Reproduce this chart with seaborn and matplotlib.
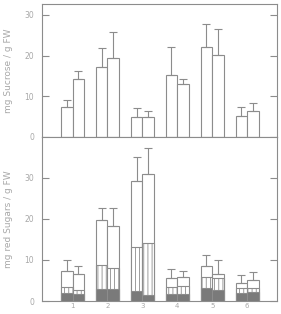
import matplotlib
matplotlib.use('Agg')
import matplotlib.pyplot as plt
import seaborn as sns
import pandas as pd
import numpy as np

groups = ['1', '2', '3', '4', '5', '6']
series = ['a', 'b']

# sucrose (top panel), mean and upper error bar end
sucrose_a = [7.3, 17.3, 5.0, 15.2, 22.2, 5.1]
sucrose_b = [14.3, 19.3, 5.0, 13.0, 20.1, 6.5]
sucrose_err_a = [9.1, 21.9, 7.2, 22.1, 27.7, 7.3]
sucrose_err_b = [16.3, 25.8, 6.5, 14.2, 26.5, 8.4]

# reducing sugars (bottom panel): total, hatched part top, dark part top
total_a = [7.3, 19.8, 29.3, 5.6, 8.5, 4.4]
total_b = [6.7, 18.4, 31.0, 5.8, 6.7, 5.2]
total_err_a = [10.1, 22.6, 35.1, 7.7, 11.3, 6.4]
total_err_b = [8.5, 22.6, 37.3, 7.3, 10.0, 7.1]
hatched_a = [3.3, 8.9, 13.1, 3.5, 5.9, 3.1]
hatched_b = [2.7, 8.1, 14.1, 3.6, 5.7, 3.2]
dark_a = [1.9, 3.0, 2.4, 1.8, 3.2, 2.0]
dark_b = [1.6, 3.0, 1.5, 1.8, 2.6, 2.2]

line_col = '#8c8c8c'
text_col = '#a8a8a8'
dark_col = '#7a7a7a'

plt.rcParams['hatch.color'] = '#9a9a9a'
plt.rcParams['hatch.linewidth'] = 0.6


def make_df(a, b):
    return pd.DataFrame({'group': groups * 2,
                         'series': ['a'] * 6 + ['b'] * 6,
                         'value': list(a) + list(b)})


def bars(ax, a, b, color, hatch=None):
    n0 = len(ax.patches)
    sns.barplot(data=make_df(a, b), x='group', y='value', hue='series',
                hue_order=series, order=groups, palette=[color, color],
                width=0.67, dodge=True, errorbar=None, legend=False,
                edgecolor=line_col, linewidth=0.8, saturation=1, ax=ax)
    for p in ax.patches[n0:]:
        if hatch:
            p.set_hatch(hatch)


def errs(ax, a_top, a_err, b_top, b_err):
    x = np.arange(len(groups))
    off = 0.67 / 4
    for xs, top, err in [(x - off, a_top, a_err), (x + off, b_top, b_err)]:
        top = np.array(top)
        err = np.array(err)
        ax.errorbar(xs, top, yerr=[np.zeros_like(top), err - top], fmt='none',
                    ecolor=line_col, elinewidth=0.8, capsize=3, capthick=0.8)


def style(ax, ylim, label):
    ax.set_xlim(-0.865, 5.85)
    ax.set_ylim(*ylim)
    ax.set_yticks([0, 10, 20, 30])
    for s in ax.spines.values():
        s.set_color(line_col)
        s.set_linewidth(0.8)
    ax.tick_params(axis='y', direction='in', length=5, width=0.8, color=line_col,
                   labelcolor=text_col, labelsize=5.5, pad=6, right=True)
    ax.set_ylabel(label, color=text_col, fontsize=6.5)
    ax.yaxis.set_label_coords(-0.125, 0.5)
    ax.set_xlabel('')


fig = plt.figure(figsize=(2.81, 3.14), dpi=100)
ax1 = fig.add_axes([0.1505, 0.5637, 0.835, 0.4236])
ax2 = fig.add_axes([0.1505, 0.0414, 0.835, 0.5223])

bars(ax1, sucrose_a, sucrose_b, 'white')
errs(ax1, sucrose_a, sucrose_err_a, sucrose_b, sucrose_err_b)
style(ax1, (0, 32.7), 'mg Sucrose / g FW')
ax1.set_xticks([])

bars(ax2, total_a, total_b, 'white')
bars(ax2, hatched_a, hatched_b, 'white', hatch='||||')
bars(ax2, dark_a, dark_b, dark_col)
errs(ax2, total_a, total_err_a, total_b, total_err_b)
style(ax2, (0, 40), 'mg red Sugars / g FW')
ax2.tick_params(axis='x', length=0, labelcolor=text_col, labelsize=5, pad=1.5)

fig.savefig('out.png', dpi=100)
